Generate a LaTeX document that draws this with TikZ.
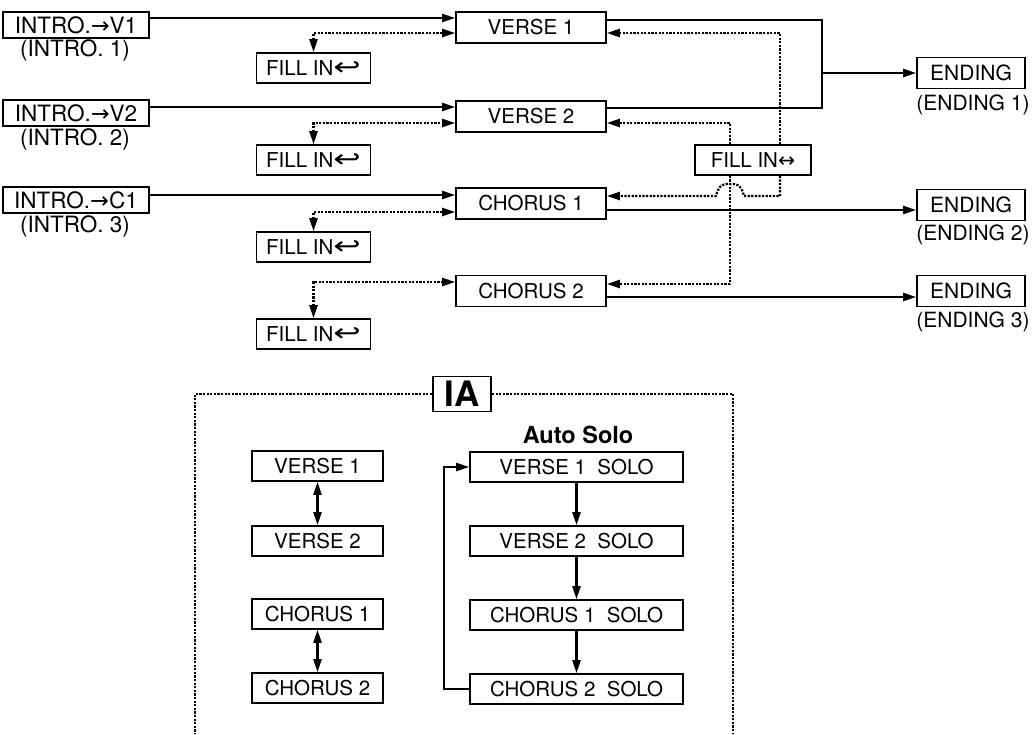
\documentclass[tikz,border=0pt]{standalone}
\usepackage{fontspec}
\usepackage{graphicx}
\setmainfont{TeX Gyre Heros}
\newfontfamily\symf{DejaVu Sans}
\usetikzlibrary{arrows.meta}
\newcommand{\hookarr}{{\symf\scalebox{1.6}[1.2]{↩}}}
\newcommand{\lrarr}{{\symf ↔}}
\newcommand{\rarr}{{\symf →}}
\begin{document}
\begin{tikzpicture}[x=1pt,y=-1pt,
  bx/.style={draw, line width=1.6pt, inner sep=0pt, minimum height=31pt, font=\fontsize{20.5}{24}\selectfont},
  introbox/.style={bx, minimum width=146pt, minimum height=26pt, font=\fontsize{22.5}{24}\selectfont},
  introlbl/.style={inner sep=0pt, font=\fontsize{22.5}{24}\selectfont},
  endlbl/.style={inner sep=0pt, font=\fontsize{21}{24}\selectfont},
  song/.style={bx, minimum width=150pt},
  fillbox/.style={bx, minimum width=114pt, minimum height=30pt},
  endbox/.style={bx, minimum width=108pt, font=\fontsize{21}{24}\selectfont},
  iabox/.style={bx, minimum width=131pt, minimum height=30pt},
  solobox/.style={bx, minimum width=213pt, minimum height=30pt},
  sline/.style={line width=2.2pt},
  sl/.style={line width=2.2pt, -{Triangle[length=13pt,width=8pt]}},
  dl/.style={line width=2.3pt, dash pattern=on 2.2pt off 1.4pt},
  dlt/.style={dl, -{Triangle[length=13pt,width=8pt]}},
  dltt/.style={dl, {Triangle[length=13pt,width=8pt]}-{Triangle[length=13pt,width=8pt]}},
  dbl/.style={line width=2.2pt, {Triangle[length=13pt,width=8pt]}-{Triangle[length=13pt,width=8pt]}}
]
\useasboundingbox (0,0) rectangle (1034,734);

% intro boxes
\node[introbox] (i1) at (76,25) {INTRO.\rarr V1};
\node[introbox] (i2) at (76,113) {INTRO.\rarr V2};
\node[introbox] (i3) at (76,200) {INTRO.\rarr C1};
\node[introlbl] (li1) at (75,50) {(INTRO. 1)};
\node[introlbl] (li2) at (75,139) {(INTRO. 2)};
\node[introlbl] (li3) at (75,226) {(INTRO. 3)};

% fill-in boxes
\node[fillbox] (f1) at (313.5,68) {FILL IN\hookarr};
\node[fillbox] (f2) at (313.5,160) {FILL IN\hookarr};
\node[fillbox] (f3) at (313.5,247) {FILL IN\hookarr};
\node[fillbox] (f4) at (313.5,334) {FILL IN\hookarr};

% song parts
\node[song] (v1) at (531,27.5) {VERSE 1};
\node[song] (v2) at (531,116.5) {VERSE 2};
\node[song] (c1) at (531,203.5) {CHORUS 1};
\node[song] (c2) at (531,291) {CHORUS 2};

\node[bx, minimum width=116pt, minimum height=30pt] (fin) at (753,160) {FILL IN\lrarr};

% endings
\node[endbox] (e1) at (971,73) {ENDING};
\node[endbox] (e2) at (971,205) {ENDING};
\node[endbox] (e3) at (971,291) {ENDING};
\node[endlbl] (le1) at (973,105) {(ENDING 1)};
\node[endlbl] (le2) at (973,235) {(ENDING 2)};
\node[endlbl] (le3) at (973,322) {(ENDING 3)};

% intro connectors
\draw[sl] (i1.east |- 0,18) -- (v1.west |- 0,18);
\draw[sl] (i2.east |- 0,107) -- (v2.west |- 0,107);
\draw[sl] (i3.east |- 0,195) -- (c1.west |- 0,195);

% fill in loops
\draw[dltt] (f1.north) |- (v1.west |- 0,33);
\draw[dltt] (f2.north) |- (v2.west |- 0,123);
\draw[dltt] (f3.north) |- (c1.west |- 0,212);
\draw[dltt] (f4.north) |- (c2.west |- 0,282);

% to endings
\coordinate (jn) at (822,73);
\draw[sline] (v1.east |- 0,20) -| (jn) |- (v2.east |- 0,108);
\draw[sl] (jn) -- (e1.west |- jn);
\draw[sl] (c1.east |- 0,210) -- (e2.west |- 0,210);
\draw[sl] (c2.east |- 0,297) -- (e3.west |- 0,297);

% fill in <-> connectors
\draw[dlt] (fin.north -| 780,0) -- (780,33) -- (v1.east |- 0,33);
\draw[dlt] (fin.north -| 730,0) -- (730,123) -- (v2.east |- 0,123);
\draw[dlt] (fin.south -| 780,0) -- (780,196) -- (744,196)
  .. controls (741,183) and (735,184) .. (730,184)
  .. controls (725,184) and (719,183) .. (716,196) -- (c1.east |- 0,196);
\draw[dlt] (fin.south -| 730,0) -- (730,284) -- (c2.east |- 0,284);

% IA section
\node[draw, line width=1.9pt, inner sep=0pt, minimum width=58pt, minimum height=35pt,
  font=\bfseries\fontsize{35}{38}\selectfont] (ia) at (462,394) {IA};
\draw[dl] (ia.west) -- (195,394) -- (195,734);
\draw[dl] (ia.east) -- (733,394) -- (733,734);

\node[iabox] (a1) at (317.5,466) {VERSE 1};
\node[iabox] (a2) at (317.5,541) {VERSE 2};
\node[iabox] (a3) at (317.5,614) {CHORUS 1};
\node[iabox] (a4) at (317.5,688) {CHORUS 2};
\draw[dbl] (a1.south) -- (a2.north);
\draw[dbl] (a3.south) -- (a4.north);

\node[inner sep=0pt, font=\bfseries\fontsize{23.5}{26}\selectfont] (as) at (578,435) {Auto Solo};
\node[solobox] (s1) at (576.5,467) {VERSE 1\ \ SOLO};
\node[solobox] (s2) at (576.5,541) {VERSE 2\ \ SOLO};
\node[solobox] (s3) at (576.5,615) {CHORUS 1\ \ SOLO};
\node[solobox] (s4) at (576.5,689) {CHORUS 2\ \ SOLO};
\draw[sl] (s1.south) -- (s2.north);
\draw[sl] (s2.south) -- (s3.north);
\draw[sl] (s3.south) -- (s4.north);
\draw[sl] (s4.west) -- ++(-25,0) |- (s1.west);
\end{tikzpicture}
\end{document}
